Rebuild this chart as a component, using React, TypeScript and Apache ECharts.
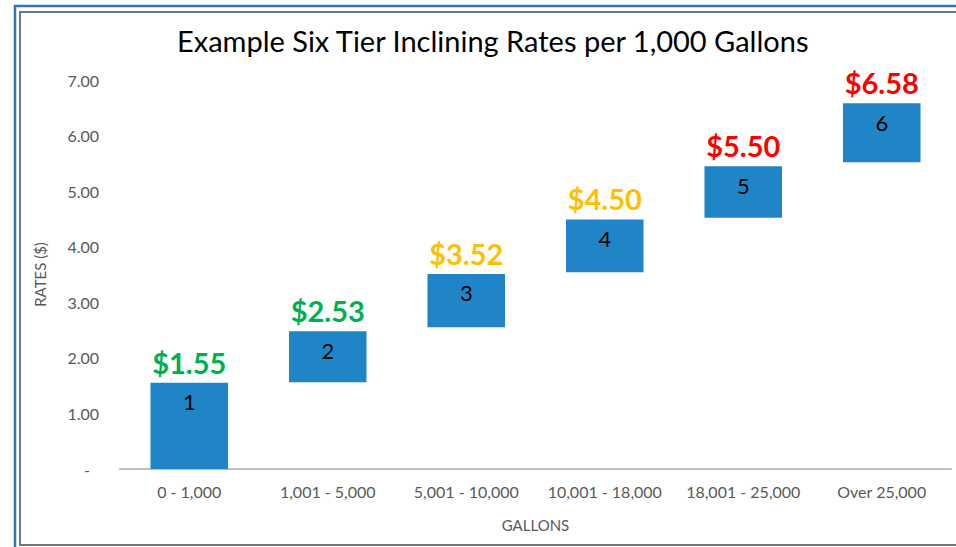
import React, { useEffect, useRef } from "react";
import * as echarts from "echarts";

const categories = ["0 - 1,000", "1,001 - 5,000", "5,001 - 10,000", "10,001 - 18,000", "18,001 - 25,000", "Over 25,000"];
const tierNames = ["1", "2", "3", "4", "5", "6"];
const rates = [1.55, 2.53, 3.52, 4.5, 5.5, 6.58];
const tierBase = [0, 1.56, 2.55, 3.54, 4.52, 5.52];
const tierTop = [1.55, 2.48, 3.51, 4.49, 5.45, 6.58];
const rateColors = ["#00B050", "#00B050", "#FFC000", "#FFC000", "#FF0000", "#FF0000"];
const yTicks = [0, 1, 2, 3, 4, 5, 6, 7];

export default function App() {
  const ref = useRef<HTMLDivElement>(null);
  useEffect(() => {
    if (!ref.current) return;
    const chart = echarts.init(ref.current, null, { renderer: "svg" });
    const font = "Lato, 'Open Sans', sans-serif";
    chart.setOption({
      animation: false,
      textStyle: { fontFamily: font },
      title: {
        text: "Example Six Tier Inclining Rates per 1,000 Gallons",
        left: 172,
        top: 21,
        textStyle: { fontFamily: font, fontSize: 29, fontWeight: "normal", color: "#000" },
      },
      graphic: [
        { type: "rect", shape: { x: 15, y: 6, width: 1000, height: 600 }, style: { fill: "none", stroke: "#2E75B6", lineWidth: 2.5 }, silent: true },
        { type: "rect", shape: { x: 20, y: 12, width: 1000, height: 533 }, style: { fill: "none", stroke: "#767676", lineWidth: 2 }, silent: true },
      ],
      grid: { left: 120, right: 5, top: 80, bottom: 78 },
      xAxis: {
        type: "category",
        data: categories,
        name: "GALLONS",
        nameLocation: "middle",
        nameGap: 48,
        nameTextStyle: { color: "#595959", fontSize: 15, fontFamily: font },
        axisLine: { lineStyle: { color: "#BFBFBF", width: 2 } },
        axisTick: { show: false },
        axisLabel: { color: "#595959", fontSize: 16, margin: 14, interval: 0, fontFamily: font },
      },
      yAxis: {
        type: "value",
        min: yTicks[0],
        max: yTicks[yTicks.length - 1],
        interval: 1,
        name: "RATES ($)",
        nameLocation: "middle",
        nameGap: 73,
        nameRotate: 90,
        nameTextStyle: { color: "#595959", fontSize: 15, fontFamily: font },
        axisLine: { show: false },
        axisTick: { show: false },
        splitLine: { show: false },
        axisLabel: {
          color: "#595959",
          fontSize: 16,
          margin: 21,
          showMinLabel: true,
          fontFamily: font,
          formatter: (v: number) => (v === 0 ? "{d|-}" : v.toFixed(2)),
          rich: { d: { color: "#595959", fontSize: 16, padding: [0, 9, 0, 0] } },
        },
      },
      series: [
        {
          type: "bar",
          stack: "w",
          silent: true,
          barCategoryGap: "44%",
          itemStyle: { color: "transparent" },
          data: tierBase,
        },
        {
          type: "bar",
          stack: "w",
          barCategoryGap: "44%",
          itemStyle: { color: "#1F85C6" },
          label: {
            show: true,
            position: "insideTop",
            distance: 8,
            color: "#000",
            fontSize: 22,
            fontFamily: font,
            formatter: (p: any) => tierNames[p.dataIndex],
          },
          data: tierTop.map((t, i) => +(t - tierBase[i]).toFixed(2)),
        },
        {
          type: "scatter",
          symbolSize: 0,
          silent: true,
          itemStyle: { opacity: 1 },
          data: tierTop.map((t, i) => ({
            value: t,
            label: { color: rateColors[i] },
          })),
          label: {
            show: true,
            position: "top",
            distance: 6,
            fontSize: 29,
            fontWeight: "bold",
            opacity: 1,
            fontFamily: font,
            formatter: (p: any) => "$" + rates[p.dataIndex].toFixed(2),
          },
        },
      ],
    });
    return () => chart.dispose();
  }, []);
  return <div ref={ref} style={{ position: "fixed", left: 0, top: 0, width: 956, height: 547, background: "#fff" }} />;
}
